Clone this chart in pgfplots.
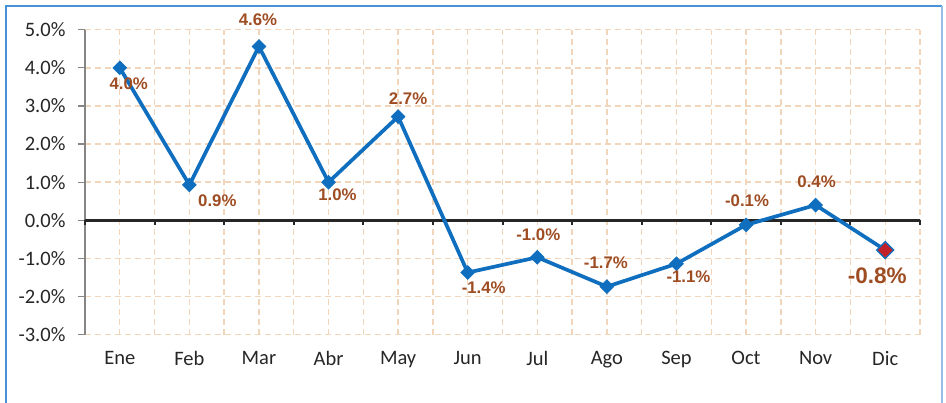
\documentclass[border=0pt]{standalone}
\usepackage{pgfplots}
\pgfplotsset{compat=1.18}
\usepackage{pgfplotstable}
\usepackage{fontspec}
\setmainfont{Carlito}
\newfontfamily\labfont{Liberation Sans}

\definecolor{lineblue}{RGB}{16,110,190}
\definecolor{labbrown}{RGB}{158,76,34}
\definecolor{gridpeach}{RGB}{242,214,188}
\definecolor{frameblue}{RGB}{70,145,215}
\definecolor{framelight}{RGB}{150,190,230}
\definecolor{markred}{RGB}{192,32,40}
\definecolor{axisgray}{RGB}{134,134,134}

\pgfplotstableread{
x y
0 4.00
1 0.93
2 4.56
3 1.00
4 2.72
5 -1.37
6 -0.97
7 -1.74
8 -1.14
9 -0.12
10 0.40
11 -0.78
}\datatab

\pgfplotstableread{
x y lab dx dy
0 4.00 4.0 9 -16
1 0.93 0.9 28 -16
2 4.56 4.6 -1 27
3 1.00 1.0 9 -13
4 2.72 2.7 10 18
5 -1.37 -1.4 16 -15
6 -0.97 -1.0 1 23
7 -1.74 -1.7 -1 24
8 -1.14 -1.1 12 -13
9 -0.12 -0.1 1 24
10 0.40 0.4 1 23
}\labtab

\begin{document}
\begin{tikzpicture}
\path[use as bounding box] (-85pt,-68.3pt) rectangle (861pt,334.7pt);
\begin{axis}[
  scale only axis, width=835pt, height=305pt,
  at={(0pt,0pt)}, anchor=south west,
  xmin=-0.5, xmax=11.5, ymin=-3, ymax=5,
  axis x line*=bottom, axis y line*=left,
  axis line style={-},
  x axis line style={draw=none},
  y axis line style={draw=axisgray, line width=1.3pt},
  xtick={0,...,11},
  xticklabels={Ene,Feb,Mar,Abr,May,Jun,Jul,Ago,Sep,Oct,Nov,Dic},
  minor xtick={-0.5,0.5,...,11.5},
  x tick style={draw=none},
  ytick={-3,...,5},
  y tick style={draw=axisgray, line width=1.3pt},
  tick align=outside, major tick length=7pt,
  xmajorgrids, xminorgrids, ymajorgrids,
  major grid style={gridpeach, line width=1.4pt, dash pattern=on 6pt off 4pt},
  minor grid style={gridpeach, line width=1.4pt, dash pattern=on 6pt off 4pt},
  yticklabel={\pgfmathprintnumber[fixed,fixed zerofill,precision=1]{\tick}\%},
  /pgf/number format/assume math mode=true,
  tick label style={font=\fontsize{20.5}{24}\selectfont, text=black!85},
  yticklabel style={xshift=-9pt},
  xticklabel style={yshift=-6pt},
  clip=false,
]
\draw[black!85, line width=2.4pt] (axis cs:-0.5,0) -- (axis cs:11.5,0);
\pgfplotsinvokeforeach{-0.5,0.5,1.5,2.5,3.5,4.5,5.5,6.5,7.5,8.5,9.5,10.5,11.5}{
  \draw[black!85, line width=2pt] (axis cs:#1,0) -- ++(0pt,-5pt);
}
\addplot[lineblue, line width=3.7pt, mark=square*, mark size=4.8pt,
  mark options={rotate=45, solid, line width=0.8pt, fill=lineblue}]
  table[x=x,y=y]{\datatab};
\addplot[only marks, mark=square*, mark size=6pt,
  mark options={rotate=45, fill=markred, draw=lineblue, line width=1.4pt}]
  coordinates {(11,-0.78)};
\addplot[draw=none, mark=none, point meta=explicit symbolic,
  visualization depends on={\thisrow{dx}\as\dx},
  visualization depends on={\thisrow{dy}\as\dy},
  nodes near coords={\pgfplotspointmeta\%},
  nodes near coords style={anchor=center, xshift=\dx pt, yshift=\dy pt,
    font=\labfont\bfseries\fontsize{16.8}{18}\selectfont, text=labbrown, inner sep=0pt}]
  table[x=x, y=y, meta=lab]{\labtab};
\addplot[draw=none, mark=none, point meta=explicit symbolic,
  nodes near coords={\pgfplotspointmeta\%},
  nodes near coords style={anchor=center, xshift=-8pt, yshift=-26pt,
    font=\labfont\bfseries\fontsize{22.5}{24}\selectfont, text=labbrown, inner sep=0pt}]
  coordinates {(11,-0.78) [-0.8]};
\end{axis}
\draw[frameblue, line width=2pt] (-78.5pt,-75pt) -- (-78.5pt,328.7pt) -- (857pt,328.7pt);
\draw[framelight, line width=1.5pt] (857pt,328.7pt) -- (857pt,-75pt);
\end{tikzpicture}
\end{document}
